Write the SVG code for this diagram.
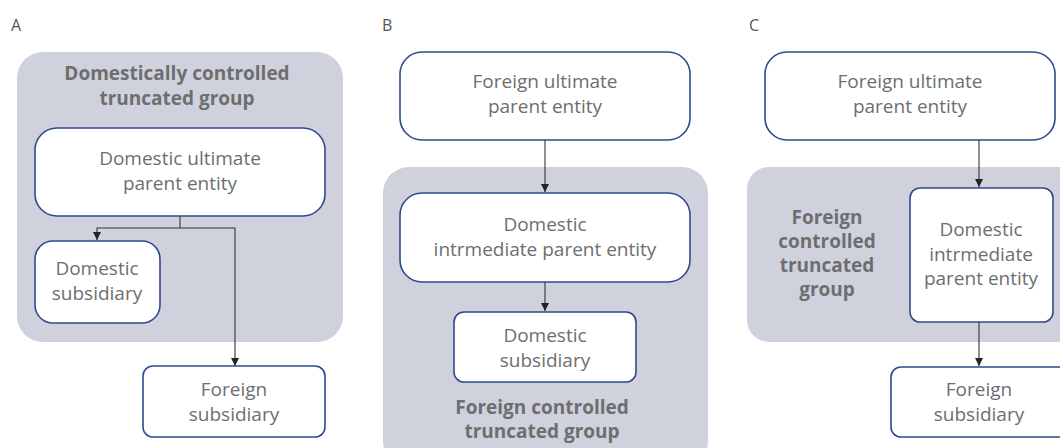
<svg xmlns="http://www.w3.org/2000/svg" width="1060" height="448" viewBox="0 0 1060 448">
<defs>
<marker id="ah" viewBox="0 0 10 10" refX="10" refY="5" markerWidth="8" markerHeight="8" markerUnits="userSpaceOnUse" orient="auto">
<path d="M0,0 L10,5 L0,10 z" fill="#222"/>
</marker>
<style>
.grp{fill:#cfd2dc;}
.box{fill:#fff;stroke:#2f4a8e;stroke-width:1.6;}
.t{font-family:"Open Sans","Noto Sans",sans-serif;font-size:19px;fill:#6d6e70;text-anchor:middle;}
.b{font-family:"Open Sans","Noto Sans",sans-serif;font-size:19px;font-weight:bold;fill:#6d6e70;text-anchor:middle;}
.lbl{font-family:"Open Sans","Noto Sans",sans-serif;font-size:16px;fill:#555;}
.c{fill:none;stroke:#333;stroke-width:1.1;}
</style>
</defs>
<rect width="1060" height="448" fill="#fff"/>
<text class="lbl" x="11" y="31">A</text>
<text class="lbl" x="382" y="31">B</text>
<text class="lbl" x="749" y="31">C</text>

<g id="groupA">
<rect class="grp" x="17" y="52" width="326" height="290" rx="26"/>
<text class="b" x="177" y="80">Domestically controlled</text>
<text class="b" x="177" y="105">truncated group</text>
</g>
<g id="groupB">
<rect class="grp" x="383" y="167" width="325" height="300" rx="26"/>
<text class="b" x="542" y="414">Foreign controlled</text>
<text class="b" x="542" y="438">truncated group</text>
</g>
<g id="groupC">
<rect class="grp" x="747" y="167" width="340" height="175" rx="22"/>
<text class="b" x="827" y="224">Foreign</text>
<text class="b" x="827" y="248">controlled</text>
<text class="b" x="827" y="272">truncated</text>
<text class="b" x="827" y="296">group</text>
</g>

<g id="connectors">
<path class="c" d="M180,216 V228"/>
<path class="c" d="M180,228 H97 V240" marker-end="url(#ah)"/>
<path class="c" d="M180,228 H235 V366" marker-end="url(#ah)"/>
<path class="c" d="M545,140 V192" marker-end="url(#ah)"/>
<path class="c" d="M545,282 V311" marker-end="url(#ah)"/>
<path class="c" d="M979,140 V187" marker-end="url(#ah)"/>
<path class="c" d="M979,322 V366" marker-end="url(#ah)"/>
</g>

<g id="A_ultimate">
<rect class="box" x="35" y="128" width="290" height="88" rx="22"/>
<text class="t" x="180" y="165">Domestic ultimate</text>
<text class="t" x="180" y="190">parent entity</text>
</g>
<g id="A_domsub">
<rect class="box" x="35" y="241" width="125" height="82" rx="18"/>
<text class="t" x="97" y="275">Domestic</text>
<text class="t" x="97" y="300">subsidiary</text>
</g>
<g id="A_forsub">
<rect class="box" x="143" y="366" width="182" height="71" rx="10"/>
<text class="t" x="234" y="396">Foreign</text>
<text class="t" x="234" y="421">subsidiary</text>
</g>

<g id="B_ultimate">
<rect class="box" x="400" y="52" width="290" height="88" rx="22"/>
<text class="t" x="545" y="88">Foreign ultimate</text>
<text class="t" x="545" y="113">parent entity</text>
</g>
<g id="B_intermediate">
<rect class="box" x="400" y="193" width="290" height="89" rx="22"/>
<text class="t" x="545" y="231">Domestic</text>
<text class="t" x="545" y="256">intrmediate parent entity</text>
</g>
<g id="B_domsub">
<rect class="box" x="454" y="312" width="182" height="70" rx="10"/>
<text class="t" x="545" y="342">Domestic</text>
<text class="t" x="545" y="367">subsidiary</text>
</g>

<g id="C_ultimate">
<rect class="box" x="765" y="52" width="290" height="88" rx="22"/>
<text class="t" x="910" y="88">Foreign ultimate</text>
<text class="t" x="910" y="113">parent entity</text>
</g>
<g id="C_intermediate">
<rect class="box" x="910" y="188" width="143" height="134" rx="10"/>
<text class="t" x="981" y="236">Domestic</text>
<text class="t" x="981" y="261">intrmediate</text>
<text class="t" x="981" y="285">parent entity</text>
</g>
<g id="C_forsub">
<rect class="box" x="891" y="367" width="182" height="70" rx="10"/>
<text class="t" x="979" y="396">Foreign</text>
<text class="t" x="979" y="421">subsidiary</text>
</g>
</svg>
